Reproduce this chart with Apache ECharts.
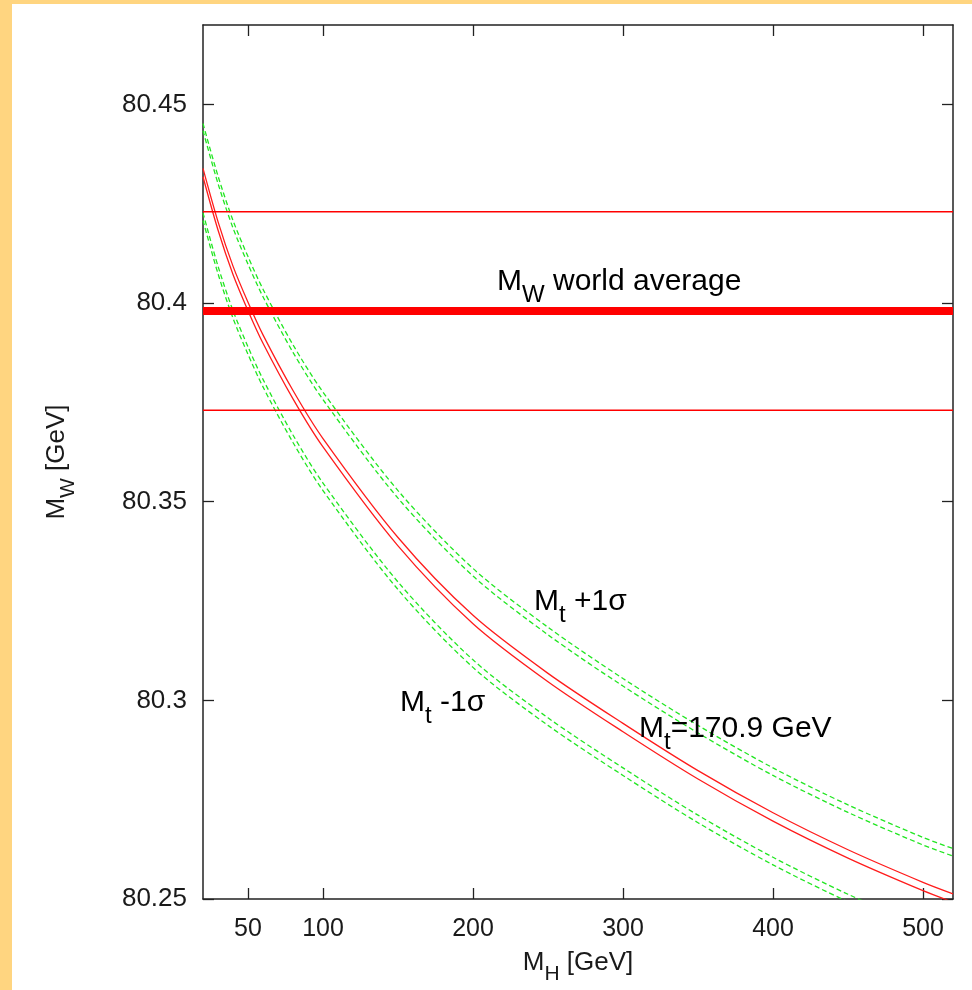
<!DOCTYPE html>
<html>
<head>
<meta charset="utf-8">
<script src="https://cdn.jsdelivr.net/npm/echarts@6/dist/echarts.min.js"></script>
<style>
  html, body { margin: 0; padding: 0; background: #fff; }
  #main { width: 972px; height: 990px; }
</style>
</head>
<body>
<div id="main"></div>
<script>
// M_H [GeV] sample points
var mh = [20, 30, 40, 50, 60, 80, 100, 150, 200, 250, 300, 350, 400, 450, 500, 520];
// M_t = 170.9 GeV, two red lines
var redA = [80.4339, 80.4205, 80.4093, 80.4002, 80.3920, 80.3780, 80.3659, 80.3410, 80.3214, 80.3068, 80.2942, 80.2823, 80.2717, 80.2624, 80.2542, 80.2513];
var redB = [80.4318, 80.4184, 80.4072, 80.3981, 80.3899, 80.3759, 80.3638, 80.3389, 80.3193, 80.3047, 80.2921, 80.2802, 80.2696, 80.2603, 80.2521, 80.2492];
// M_t +1 sigma (green dashed)
var plusA = [80.4452, 80.4320, 80.4208, 80.4117, 80.4035, 80.3895, 80.3776, 80.3528, 80.3332, 80.3184, 80.3055, 80.2937, 80.2830, 80.2737, 80.2655, 80.2627];
var plusB = [80.4434, 80.4301, 80.4189, 80.4098, 80.4016, 80.3876, 80.3757, 80.3509, 80.3313, 80.3165, 80.3036, 80.2918, 80.2811, 80.2718, 80.2636, 80.2608];
// M_t -1 sigma (green dashed)
var minusA = [80.4227, 80.4093, 80.3981, 80.3890, 80.3808, 80.3668, 80.3547, 80.3298, 80.3102, 80.2956, 80.2830, 80.2711, 80.2605, 80.2512, 80.2430, 80.2401];
var minusB = [80.4208, 80.4074, 80.3962, 80.3871, 80.3789, 80.3649, 80.3528, 80.3279, 80.3083, 80.2937, 80.2811, 80.2692, 80.2586, 80.2493, 80.2411, 80.2382];

// M_W world average and its error band
var wAvg = 80.398;
var wErr = 0.025;

var xRange = [20, 520];
var yRange = [80.25, 80.47];
var xTicks = [50, 100, 200, 300, 400, 500];
var yTicks = [80.25, 80.3, 80.35, 80.4, 80.45];

var FONT = '"Liberation Sans", Arial, Helvetica, sans-serif';
var TXT = '#1a1a1a';

function pairs(xs, ys) {
    var out = [];
    for (var i = 0; i < xs.length; i++) out.push([xs[i], ys[i]]);
    return out;
}
function hline(v) {
    return [[xRange[0], v], [xRange[1], v]];
}

var chart = echarts.init(document.getElementById('main'), null, {renderer: 'canvas'});

var curveBase = {
    type: 'line',
    symbol: 'none',
    smooth: 0.3,
    silent: true,
    animation: false
};
function redCurve(ys) {
    return Object.assign({}, curveBase, {
        data: pairs(mh, ys),
        lineStyle: {color: '#ff1c1c', width: 1.3}
    });
}
function greenCurve(ys) {
    return Object.assign({}, curveBase, {
        data: pairs(mh, ys),
        lineStyle: {color: '#22e622', width: 1.3, type: [5, 3]}
    });
}
function flat(v, w) {
    return {
        type: 'line', symbol: 'none', silent: true, animation: false, z: 5,
        data: hline(v),
        lineStyle: {color: '#ff0000', width: w}
    };
}

// rich text styles: main text + lowered subscript
function rich(size, drop) {
    var ss = Math.round(size * 0.8);
    return {
        m: {fontFamily: FONT, fontSize: size, color: TXT, height: size, lineHeight: size, verticalAlign: 'top'},
        s: {fontFamily: FONT, fontSize: ss, color: TXT, height: ss, lineHeight: size + drop, verticalAlign: 'bottom'}
    };
}

var tickStyle = {inside: true, length: 11, lineStyle: {color: '#222', width: 1.3}};

chart.setOption({
    backgroundColor: '#ffffff',
    animation: false,
    grid: {left: 203, top: 25, width: 750, height: 880, containLabel: false},
    xAxis: [{
        type: 'value', min: xRange[0], max: xRange[1],
        position: 'bottom',
        name: '{m|M}{s|H}{m| [GeV]}',
        nameLocation: 'middle',
        nameGap: 51,
        nameTextStyle: {rich: rich(26, 9)},
        axisLine: {show: true, onZero: false, lineStyle: {color: '#222', width: 1.5}},
        axisTick: Object.assign({customValues: xTicks}, tickStyle),
        axisLabel: {customValues: xTicks, fontFamily: FONT, fontSize: 25, color: TXT, margin: 18},
        splitLine: {show: false}
    }, {
        type: 'value', min: xRange[0], max: xRange[1],
        position: 'top',
        axisLine: {show: true, onZero: false, lineStyle: {color: '#222', width: 1.5}},
        axisTick: Object.assign({customValues: xTicks}, tickStyle),
        axisLabel: {show: false},
        splitLine: {show: false}
    }],
    yAxis: [{
        type: 'value', min: yRange[0], max: yRange[1],
        position: 'left',
        name: '{m|M}{s|W}{m| [GeV]}',
        nameLocation: 'middle',
        nameGap: 124,
        nameRotate: 90,
        nameTextStyle: {rich: rich(26, 9)},
        axisLine: {show: true, onZero: false, lineStyle: {color: '#222', width: 1.5}},
        axisTick: Object.assign({customValues: yTicks}, tickStyle),
        axisLabel: {customValues: yTicks, fontFamily: FONT, fontSize: 26, color: TXT, margin: 16},
        splitLine: {show: false}
    }, {
        type: 'value', min: yRange[0], max: yRange[1],
        position: 'right',
        axisLine: {show: true, onZero: false, lineStyle: {color: '#222', width: 1.5}},
        axisTick: Object.assign({customValues: yTicks}, tickStyle),
        axisLabel: {show: false},
        splitLine: {show: false}
    }],
    series: [
        greenCurve(plusA), greenCurve(plusB),
        greenCurve(minusA), greenCurve(minusB),
        redCurve(redA), redCurve(redB),
        flat(wAvg + wErr, 1.5),
        flat(wAvg - wErr, 1.5),
        flat(wAvg, 8)
    ],
    graphic: [
        // orange frame of the slide
        {type: 'rect', left: 0, top: 0, shape: {width: 12, height: 990}, style: {fill: '#ffd580'}, z: 100},
        {type: 'rect', left: 0, top: 0, shape: {width: 972, height: 4}, style: {fill: '#ffd580'}, z: 100},
        {type: 'text', x: 497, y: 267, z: 100,
            style: {text: '{m|M}{s|W}{m| world average}', rich: rich(30, 10), verticalAlign: 'top'}},
        {type: 'text', x: 534, y: 587, z: 100,
            style: {text: '{m|M}{s|t}{m| +1σ}', rich: rich(30, 10), verticalAlign: 'top'}},
        {type: 'text', x: 400, y: 688, z: 100,
            style: {text: '{m|M}{s|t}{m| -1σ}', rich: rich(30, 10), verticalAlign: 'top'}},
        {type: 'text', x: 639, y: 714, z: 100,
            style: {text: '{m|M}{s|t}{m|=170.9 GeV}', rich: rich(30, 10), verticalAlign: 'top'}}
    ]
});
</script>
</body>
</html>
